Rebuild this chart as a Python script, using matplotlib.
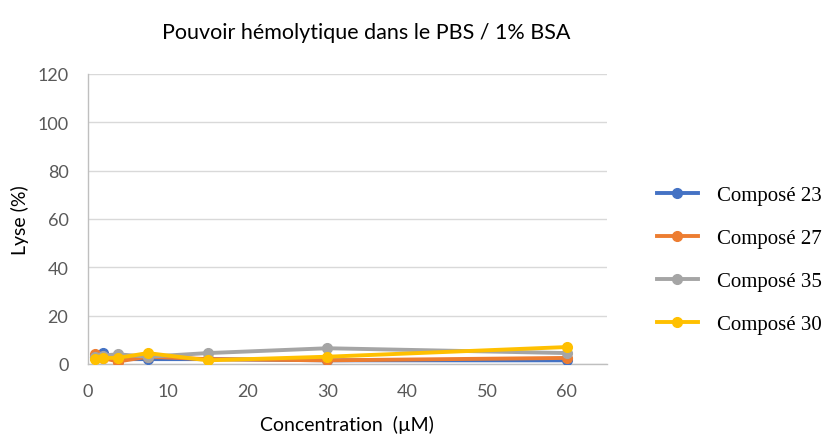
import numpy as np
import matplotlib
matplotlib.use("Agg")
import matplotlib.pyplot as plt

# concentrations (µM) and lysis (%)
conc = [0.94, 1.875, 3.75, 7.5, 15, 30, 60]
c23 = [3.0, 4.5, 2.0, 2.0, 2.0, 1.5, 1.5]
c27 = [4.0, 2.5, 1.0, 3.0, 2.0, 1.5, 2.5]
c35 = [3.0, 3.5, 4.0, 3.0, 4.5, 6.5, 4.5]
c30 = [2.0, 2.5, 2.5, 4.5, 1.5, 3.0, 7.0]
# only the last point carries a visible error bar
err23 = [0, 0, 0, 0, 0, 0, 1.0]
err27 = [0, 0, 0, 0, 0, 0, 1.0]
err35 = [0, 0, 0, 0, 0, 0, 1.5]
err30 = [0, 0, 0, 0, 0, 0, 1.0]

labels = ["Composé 23", "Composé 27", "Composé 35", "Composé 30"]
colors = ["#4472C4", "#ED7D31", "#A5A5A5", "#FFC000"]

plt.rcParams['font.family'] = ['Lato', 'DejaVu Sans']

fig = plt.figure(figsize=(8.29, 4.35), dpi=100)
ax = fig.add_axes([0.106, 0.161, 0.626, 0.667])

handles = []
for y, e, c, lab in zip([c23, c27, c35, c30], [err23, err27, err35, err30], colors, labels):
    ax.errorbar(conc, y, yerr=e, fmt='none', ecolor='#404040',
                elinewidth=1, capsize=3, zorder=2)
    ln, = ax.plot(conc, y, color=c, lw=2.8, marker='o', ms=7, label=lab, zorder=3)
    handles.append(ln)

ax.set_xlim(0, 65)
ax.set_ylim(0, 120)
ax.set_xticks(np.arange(0, 61, 10))
ax.set_yticks(np.arange(0, 121, 20))
ax.tick_params(axis='both', length=0, labelsize=13, colors='#595959')
ax.tick_params(axis='y', pad=14)
ax.tick_params(axis='x', pad=14)
ax.grid(axis='y', color='#D9D9D9', lw=1)
ax.set_axisbelow(True)
for s in ['top', 'right']:
    ax.spines[s].set_visible(False)
for s in ['left', 'bottom']:
    ax.spines[s].set_color('#BFBFBF')
    ax.spines[s].set_linewidth(1)

ax.set_xlabel("Concentration  (µM)", fontsize=14, labelpad=11)
ax.set_ylabel("Lyse (%)", fontsize=14, labelpad=6)

fig.text(366 / 829, 1 - 33 / 435, "Pouvoir hémolytique dans le PBS / 1% BSA",
         ha='center', va='center', fontsize=15.5)

fig.legend(handles, labels, loc='center left', bbox_to_anchor=(657 / 829, 0.40),
           frameon=False, prop={'family': 'Liberation Serif', 'size': 15},
           labelspacing=1.12, handlelength=1.95, handletextpad=0.95,
           borderpad=0, borderaxespad=0)

fig.savefig("out.png", dpi=100)
